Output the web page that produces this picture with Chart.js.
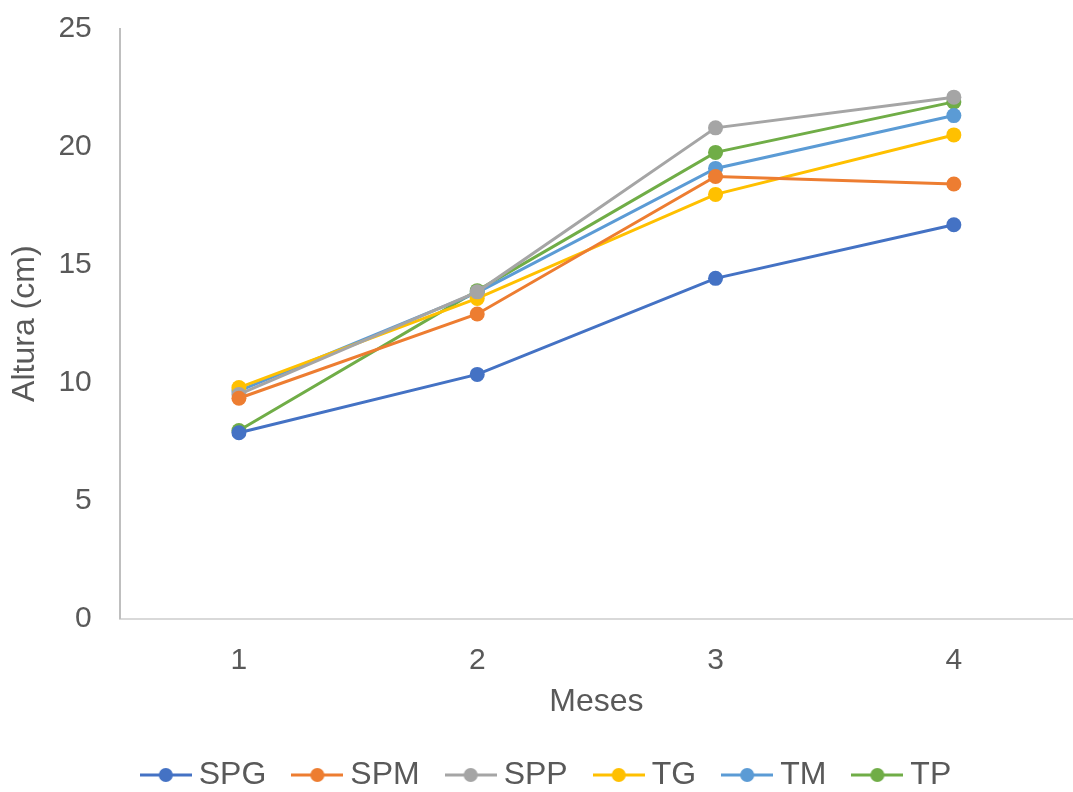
<!DOCTYPE html>
<html>
<head>
<meta charset="utf-8">
<script src="https://cdn.jsdelivr.net/npm/chart.js@4/dist/chart.umd.min.js"></script>
<style>
html,body{margin:0;padding:0;background:#fff;}
#wrap{width:1073px;height:792px;}
</style>
</head>
<body>
<div id="wrap"><canvas id="c" width="1073" height="792"></canvas></div>
<script>
const months = ['1', '2', '3', '4'];
const seriesNames = ['SPG', 'SPM', 'SPP', 'TG', 'TM', 'TP'];
const SPG = [7.88, 10.35, 14.42, 16.69];
const SPM = [9.34, 12.91, 18.74, 18.42];
const SPP = [9.5, 13.85, 20.8, 22.1];
const TG  = [9.79, 13.57, 17.98, 20.5];
const TM  = [9.65, 13.82, 19.08, 21.32];
const TP  = [7.97, 13.9, 19.76, 21.9];
const yTicks = [0, 5, 10, 15, 20, 25];

const values = [SPG, SPM, SPP, TG, TM, TP];
const colors = ['#4472C4', '#ED7D31', '#A5A5A5', '#FFC000', '#5B9BD5', '#70AD47'];
const textColor = '#595959';
const fontFam = '"Liberation Sans", Arial, sans-serif';

function legendIcon(color) {
  const c = document.createElement('canvas');
  c.width = 52; c.height = 18;
  const x = c.getContext('2d');
  x.strokeStyle = color; x.lineWidth = 3;
  x.beginPath(); x.moveTo(0, 9); x.lineTo(52, 9); x.stroke();
  x.fillStyle = color;
  x.beginPath(); x.arc(26, 9, 7, 0, Math.PI * 2); x.fill();
  return c;
}
const icons = colors.map(legendIcon);

new Chart(document.getElementById('c'), {
  type: 'line',
  data: {
    labels: months,
    datasets: seriesNames.map((n, i) => ({
      label: n,
      data: values[i],
      borderColor: colors[i],
      backgroundColor: colors[i],
      borderWidth: 3,
      pointRadius: 7.5,
      pointHoverRadius: 7.5,
      pointBorderWidth: 0,
      pointBackgroundColor: colors[i],
      tension: 0
    }))
  },
  options: {
    responsive: false,
    animation: false,
    layout: { autoPadding: false, padding: { top: 27, right: -9, left: 18, bottom: -9 } },
    plugins: {
      tooltip: { enabled: false },
      legend: {
        position: 'bottom',
        labels: {
          color: textColor,
          font: { size: 32, family: fontFam },
          usePointStyle: true,
          pointStyleWidth: 34,
          padding: 34,
          generateLabels: (chart) => chart.data.datasets.map((d, i) => ({
            text: d.label,
            fillStyle: colors[i],
            strokeStyle: colors[i],
            fontColor: textColor,
            pointStyle: icons[i],
            lineWidth: 0,
            datasetIndex: i,
            hidden: false
          }))
        }
      }
    },
    scales: {
      x: {
        offset: true,
        grid: { display: false, drawTicks: false },
        border: { display: true, color: '#D9D9D9', width: 2 },
        ticks: { color: textColor, font: { size: 30, family: fontFam }, padding: 24 },
        title: { display: true, text: 'Meses', color: textColor, font: { size: 32, family: fontFam }, padding: { top: -20, bottom: 4 } }
      },
      y: {
        min: 0, max: 25,
        afterBuildTicks: (axis) => { axis.ticks = yTicks.map(v => ({ value: v })); },
        grid: { display: false, drawTicks: false },
        border: { display: true, color: '#BFBFBF', width: 2 },
        ticks: { color: textColor, font: { size: 30, family: fontFam, lineHeight: 0.05 }, padding: 28 },
        title: { display: true, text: 'Altura (cm)', color: textColor, font: { size: 32, family: fontFam }, padding: { top: -12, bottom: -14 } }
      }
    }
  }
});
</script>
</body>
</html>
